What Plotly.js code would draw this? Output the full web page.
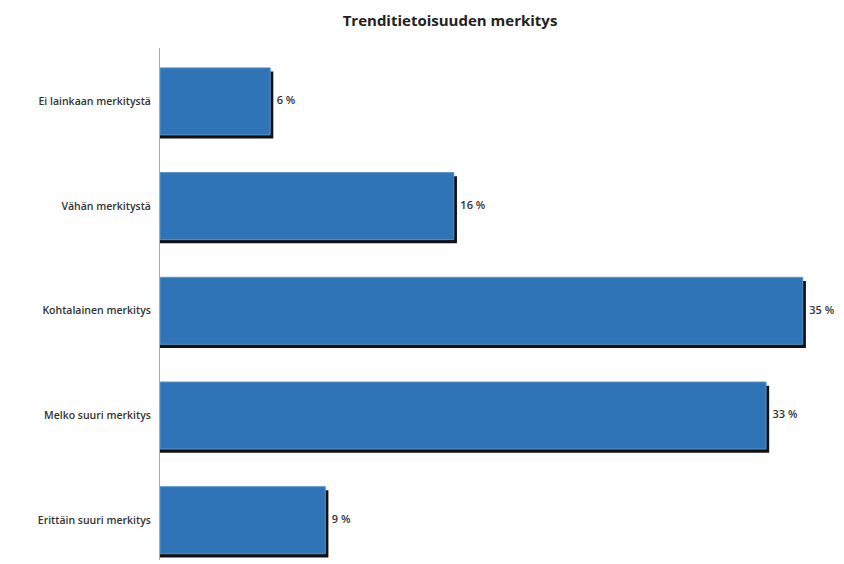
<!DOCTYPE html>
<html>
<head>
<meta charset="utf-8">
<script src="https://cdn.plot.ly/plotly-3.0.1.min.js"></script>
<style>
  html, body { margin: 0; padding: 0; background: #fff; }
  #chart { width: 844px; height: 564px; }
</style>
</head>
<body>
<div id="chart"></div>
<script>
// Vastausvaihtoehdot ja osuudet (%)
const categories = [
    'Ei lainkaan merkitystä',
    'Vähän merkitystä',
    'Kohtalainen merkitys',
    'Melko suuri merkitys',
    'Erittäin suuri merkitys'
];
const shares = [6, 16, 35, 33, 9];

const barWidth = 0.64;

// Varjo oikealle ja alas
const shadow = {
    type: 'bar',
    orientation: 'h',
    y: categories,
    x: shares.map(v => v + 0.17),
    width: barWidth,
    offset: -barWidth / 2 + 0.035,
    marker: { color: '#111111' },
    hoverinfo: 'skip',
    showlegend: false
};

const bars = {
    type: 'bar',
    orientation: 'h',
    y: categories,
    x: shares,
    width: barWidth,
    offset: -barWidth / 2,
    marker: {
        color: '#2F74B6',
        line: { color: '#5A93C8', width: 1 }
    },
    showlegend: false
};

// Arvotekstit palkkien oikealle puolelle
const labels = {
    type: 'scatter',
    mode: 'text',
    y: categories,
    x: shares.map(v => v + 0.2),
    text: shares.map(v => '\u00a0' + v + ' %'),
    textposition: 'middle right',
    textfont: { family: 'Open Sans, sans-serif', size: 11, color: '#333333', weight: 600 },
    cliponaxis: false,
    hoverinfo: 'skip',
    showlegend: false
};

const layout = {
    width: 844,
    height: 564,
    margin: { l: 160, r: 10, t: 48, b: 4 },
    paper_bgcolor: '#ffffff',
    plot_bgcolor: '#ffffff',
    barmode: 'overlay',
    title: {
        text: '<b>Trenditietoisuuden merkitys</b>',
        x: 450 / 844,
        xanchor: 'center',
        y: 1 - 21 / 564,
        yanchor: 'middle',
        font: { family: 'Open Sans, sans-serif', size: 15, color: '#222222' }
    },
    xaxis: {
        range: [0, 36.7],
        visible: false,
        showgrid: false,
        zeroline: false
    },
    yaxis: {
        type: 'category',
        range: [4.38, -0.51],
        showline: true,
        linecolor: '#aaaaaa',
        linewidth: 1,
        showgrid: false,
        ticks: 'outside',
        ticklen: 6,
        tickcolor: 'rgba(0,0,0,0)',
        tickfont: { family: 'Open Sans, sans-serif', size: 10.5, color: '#333333', weight: 600 }
    }
};

Plotly.newPlot('chart', [shadow, bars, labels], layout, { displayModeBar: false, staticPlot: true });
</script>
</body>
</html>
